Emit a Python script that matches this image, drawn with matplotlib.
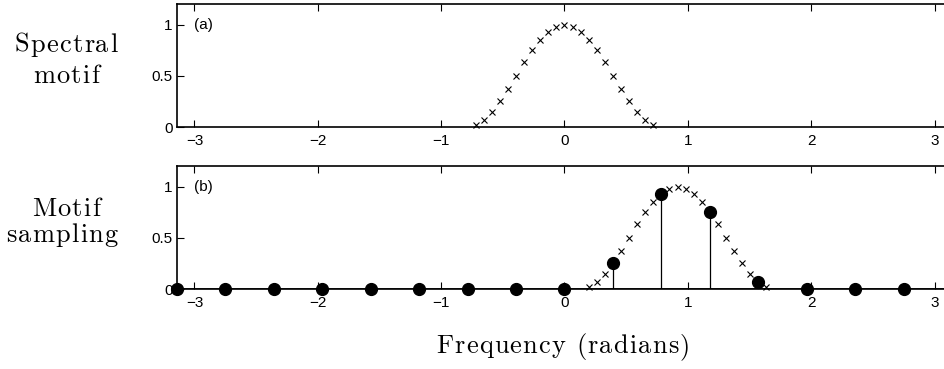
import numpy as np
import matplotlib.pyplot as plt
from matplotlib.font_manager import FontProperties

# motif samples, spaced pi/48 apart
motif_x = np.array([-11, -10, -9, -8, -7, -6, -5, -4, -3, -2, -1, 0,
                    1, 2, 3, 4, 5, 6, 7, 8, 9, 10, 11]) * np.pi / 48
motif_y = [0.02, 0.07, 0.15, 0.25, 0.37, 0.50, 0.63, 0.75, 0.85, 0.93, 0.98, 1.00,
           0.98, 0.93, 0.85, 0.75, 0.63, 0.50, 0.37, 0.25, 0.15, 0.07, 0.02]

# shifted motif (panel b)
shift = 7 * np.pi / 24
shifted_x = motif_x + shift
shifted_y = motif_y

# samples taken every pi/8
sample_x = np.arange(-8, 8) * np.pi / 8
sample_y = [0, 0, 0, 0, 0, 0, 0, 0, 0, 0.25, 0.93, 0.75, 0.07, 0, 0, 0]

row_labels = [['Spectral', 'motif'], ['Motif', 'sampling']]
panel_tags = ['(a)', '(b)']
xlabel = 'Frequency (radians)'

plt.rcParams['font.family'] = ['Liberation Sans', 'DejaVu Sans']
plt.rcParams['axes.unicode_minus'] = True

W, H = 945, 369
fig = plt.figure(figsize=(W / 100, H / 100), dpi=100)
ax1 = fig.add_axes([0.1873, 0.6558, 0.8201, 0.3333])
ax2 = fig.add_axes([0.1873, 0.2168, 0.8201, 0.3333])

renderer = fig.canvas.get_renderer()
serif = FontProperties(family='cmr10', size=19)


def spaced_text(cx, base, s, gap=1.2):
    # draw s letter by letter, centred on pixel cx, baseline at pixel row base
    widths = [renderer.get_text_width_height_descent(c, serif, ismath=False)[0]
              for c in s]
    total = sum(widths) + gap * (len(s) - 1)
    x = cx - total / 2
    for c, w in zip(s, widths):
        fig.text(x / W, 1 - base / H, c, fontproperties=serif,
                 ha='left', va='baseline')
        x += w + gap


for ax, tag in zip([ax1, ax2], panel_tags):
    ax.set_xlim(-np.pi, np.pi)
    ax.set_ylim(0, 1.2)
    ax.set_xticks([-3, -2, -1, 0, 1, 2, 3])
    ax.set_yticks([0, 0.5, 1])
    ax.set_yticklabels(['0', '0.5', '1'])
    ax.tick_params(direction='in', top=True, right=True, length=5, width=0.8,
                   labelsize=11)
    ax.tick_params(axis='x', pad=5)
    ax.tick_params(axis='y', pad=3)
    for s in ax.spines.values():
        s.set_linewidth(1.2)
    ax.text(-3.0, 1.0, tag, fontsize=11, va='center', ha='left')

ax1.plot(motif_x, motif_y, 'kx', ms=5, mew=0.8, clip_on=False)

ax2.plot(shifted_x, shifted_y, 'kx', ms=5, mew=0.8, clip_on=False)
ax2.vlines(sample_x, 0, sample_y, colors='k', lw=0.9)
ax2.axhline(0, color='k', lw=1.2)
ax2.plot(sample_x, sample_y, 'ko', ms=8.5, clip_on=False, zorder=3)

spaced_text(66, 52, row_labels[0][0])
spaced_text(66, 83, row_labels[0][1])
spaced_text(66, 216, row_labels[1][0])
spaced_text(62, 242, row_labels[1][1])
spaced_text(563, 353, xlabel)

fig.savefig('out.png', dpi=100)
